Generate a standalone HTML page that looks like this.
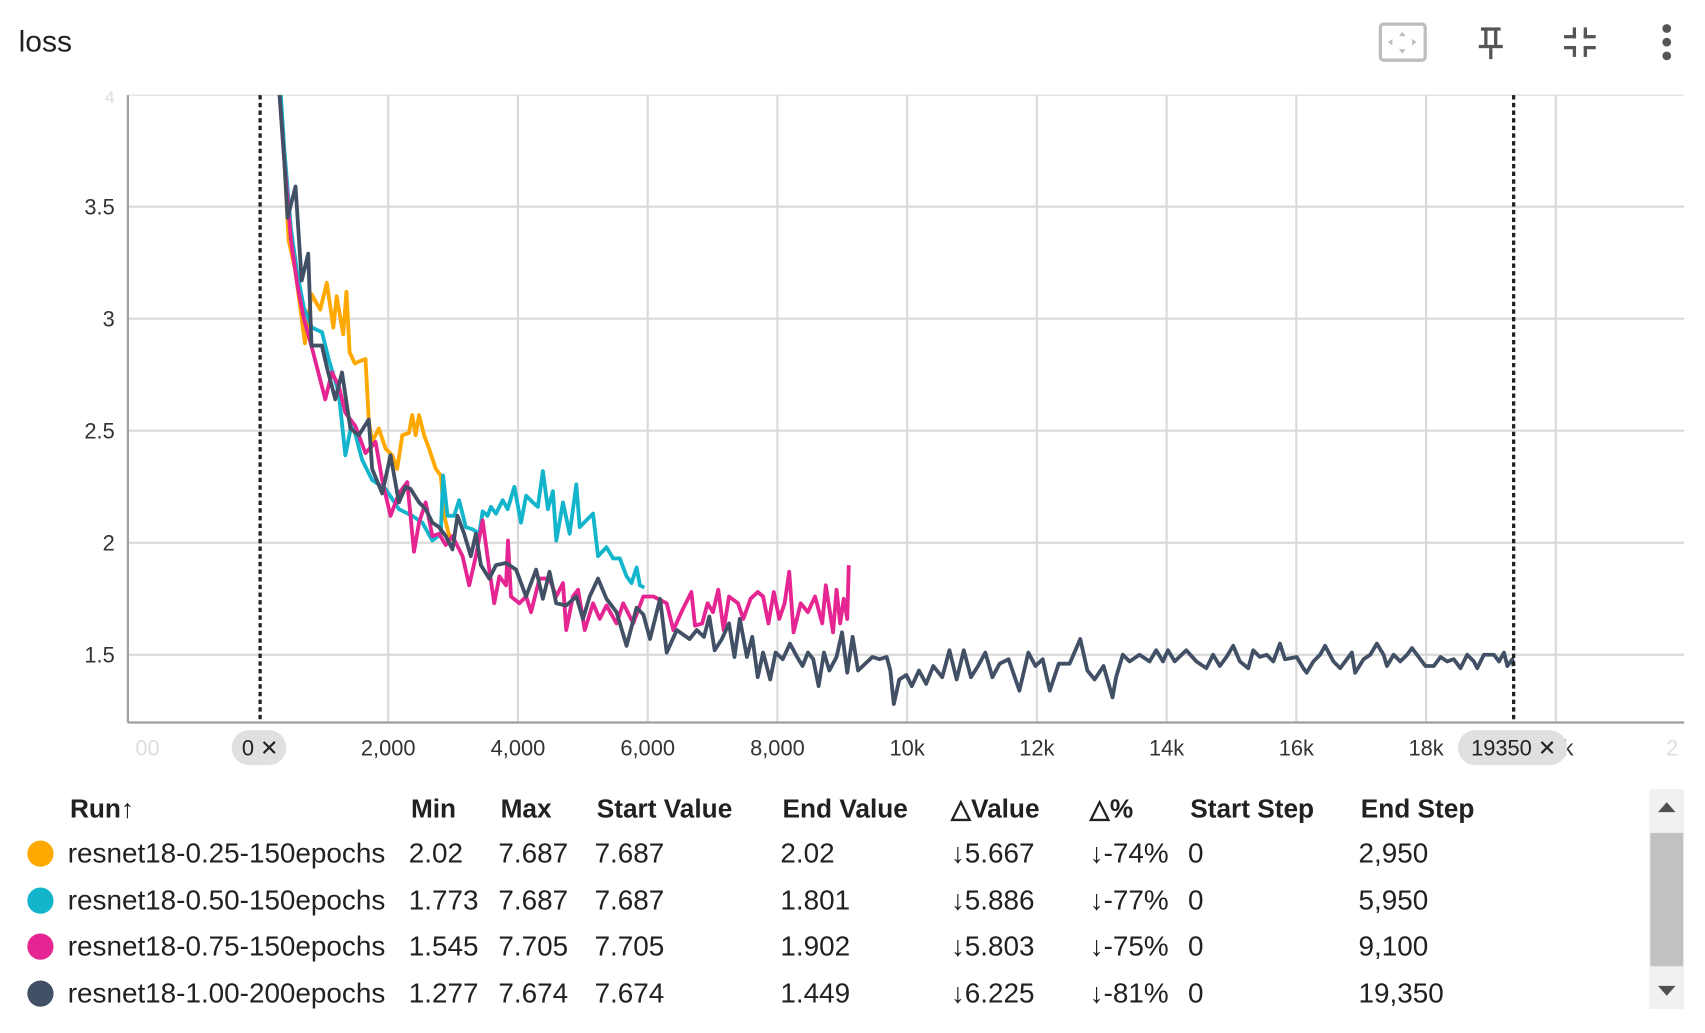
<!DOCTYPE html>
<html><head><meta charset="utf-8"><style>
html,body{margin:0;padding:0;background:#fff;overflow:hidden}
svg{display:block}
text{font-family:"Liberation Sans",sans-serif}
</style></head><body>
<svg id="root" width="1705" height="1033" viewBox="0 0 1560 945" xmlns="http://www.w3.org/2000/svg" fill="#212121">
<text x="17" y="47" font-size="27.5">loss</text>
<g>
<rect x="1263" y="22" width="41" height="33" rx="3" fill="#fff" stroke="#bdbdbd" stroke-width="3"/>
<path d="M1283 29 l-3 4 h6z M1283 49 l-3 -4 h6z M1270 38.5 l4 -3 v6z M1296 38.5 l-4 -3 v6z" fill="#bdbdbd"/>
</g>
<g fill="#555">
<rect x="1355" y="25" width="18" height="3"/><rect x="1358" y="27" width="3" height="15"/><rect x="1367" y="27" width="3" height="15"/><rect x="1353" y="41" width="22" height="3"/><rect x="1362.5" y="43" width="3" height="11"/>
</g>
<g fill="#555">
<rect x="1439" y="25" width="3" height="10"/><rect x="1431" y="32" width="11" height="3"/>
<rect x="1449" y="25" width="3" height="10"/><rect x="1449" y="32" width="11" height="3"/>
<rect x="1431" y="42" width="11" height="3"/><rect x="1439" y="42" width="3" height="10"/>
<rect x="1449" y="42" width="11" height="3"/><rect x="1449" y="42" width="3" height="10"/>
</g>
<g fill="#555">
<circle cx="1525" cy="26" r="4"/><circle cx="1525" cy="38.5" r="4"/><circle cx="1525" cy="51" r="4"/>
</g>
<defs><clipPath id="plotclip"><rect x="117" y="87" width="1424" height="574"/></clipPath></defs>
<g id="grid"></g>
<g id="series" clip-path="url(#plotclip)"></g>
<g id="axes"></g>
<g font-size="25.5">
<g font-weight="bold" font-size="24">
<text x="64" y="748">Run↑</text>
<text x="376" y="748">Min</text>
<text x="458" y="748">Max</text>
<text x="546" y="748">Start Value</text>
<text x="716" y="748">End Value</text>
<text x="870" y="748">△Value</text>
<text x="997" y="748">△%</text>
<text x="1089" y="748">Start Step</text>
<text x="1245" y="748">End Step</text>
</g>
<g><circle cx="37" cy="781" r="12" fill="#ffa800"/>
<text x="62" y="789">resnet18-0.25-150epochs</text><text x="374" y="789">2.02</text><text x="456" y="789">7.687</text><text x="544" y="789">7.687</text><text x="714" y="789">2.02</text><text x="870" y="789">↓5.667</text><text x="997" y="789">↓-74%</text><text x="1087" y="789">0</text><text x="1243" y="789">2,950</text></g>
<g><circle cx="37" cy="824" r="12" fill="#12b5cb"/>
<text x="62" y="832">resnet18-0.50-150epochs</text><text x="374" y="832">1.773</text><text x="456" y="832">7.687</text><text x="544" y="832">7.687</text><text x="714" y="832">1.801</text><text x="870" y="832">↓5.886</text><text x="997" y="832">↓-77%</text><text x="1087" y="832">0</text><text x="1243" y="832">5,950</text></g>
<g><circle cx="37" cy="866" r="12" fill="#e52592"/>
<text x="62" y="874">resnet18-0.75-150epochs</text><text x="374" y="874">1.545</text><text x="456" y="874">7.705</text><text x="544" y="874">7.705</text><text x="714" y="874">1.902</text><text x="870" y="874">↓5.803</text><text x="997" y="874">↓-75%</text><text x="1087" y="874">0</text><text x="1243" y="874">9,100</text></g>
<g><circle cx="37" cy="909" r="12" fill="#425066"/>
<text x="62" y="917">resnet18-1.00-200epochs</text><text x="374" y="917">1.277</text><text x="456" y="917">7.674</text><text x="544" y="917">7.674</text><text x="714" y="917">1.449</text><text x="870" y="917">↓6.225</text><text x="997" y="917">↓-81%</text><text x="1087" y="917">0</text><text x="1243" y="917">19,350</text></g>
</g>
<g>
<rect x="1509" y="722" width="32" height="201" fill="#f1f1f1"/>
<rect x="1510" y="762" width="30" height="122" fill="#c1c1c1"/>
<path d="M1525 734 l-8 9 h16z" fill="#505050"/><path d="M1525 911 l-8 -9 h16z" fill="#505050"/>
</g>
</svg>
<script>
const yTicks=[1.5,2,2.5,3,3.5];
const yTickLabels=["1.5","2","2.5","3","3.5"];
const xTicks=[-2000,2000,4000,6000,8000,10000,12000,14000,16000,18000,20000,22000];
const xTickLabels=["-2,000","2,000","4,000","6,000","8,000","10k","12k","14k","16k","18k","20k","22k"];
const rangeMarkers=[0,19350];
const stepsOrange=[0,100,200,300,400,465,565,716,818,952,1053,1154,1204,1305,1356,1406,1486,1560,1650,1701,1752,1855,1959,2062,2139,2217,2320,2371,2423,2475,2552,2630,2733,2810,2862,2950];
const lossOrange=[7.687,6.2,5.0,4.2,3.7,3.35,3.22,2.89,3.11,3.04,3.16,2.96,3.10,2.93,3.12,2.85,2.80,2.81,2.82,2.54,2.45,2.51,2.42,2.39,2.33,2.48,2.49,2.57,2.48,2.57,2.48,2.42,2.33,2.30,2.12,2.02];
const stepsCyan=[0,100,200,300,400,500,600,700,824,979,1082,1236,1340,1443,1598,1752,1959,2165,2371,2526,2681,2810,2846,2913,3016,3094,3197,3300,3403,3455,3532,3584,3661,3764,3842,3945,4048,4126,4229,4307,4384,4461,4539,4591,4694,4797,4900,4952,5055,5158,5235,5364,5468,5571,5674,5751,5829,5880,5950];
const lossCyan=[7.687,6.2,5.0,4.2,3.75,3.4,3.2,3.05,2.96,2.94,2.82,2.67,2.39,2.54,2.37,2.28,2.24,2.15,2.12,2.09,2.01,2.04,2.30,2.12,2.12,2.19,2.07,2.06,2.04,2.14,2.12,2.16,2.13,2.19,2.15,2.25,2.09,2.21,2.18,2.16,2.32,2.15,2.23,2.01,2.18,2.04,2.26,2.07,2.10,2.13,1.94,1.98,1.93,1.93,1.85,1.82,1.89,1.81,1.80];
const stepsPink=[0,100,200,300,400,500,600,700,824,1030,1133,1236,1340,1494,1649,1804,1907,2036,2165,2294,2397,2475,2578,2681,2784,2887,2990,3145,3248,3351,3455,3558,3635,3713,3816,3847,3893,4022,4126,4203,4332,4487,4590,4694,4745,4848,4926,5029,5158,5261,5364,5519,5622,5777,5932,6087,6293,6396,6536,6674,6729,6840,6923,7006,7088,7171,7254,7392,7475,7586,7696,7779,7862,7945,8028,8111,8182,8249,8359,8470,8580,8691,8746,8857,8912,8967,9022,9077,9100];
const lossPink=[7.705,6.1,4.9,4.1,3.7,3.35,3.15,3.0,2.87,2.64,2.76,2.70,2.58,2.52,2.40,2.45,2.28,2.12,2.22,2.27,1.96,2.09,2.18,2.03,2.04,1.99,2.03,1.94,1.81,1.94,2.10,1.88,1.73,1.85,1.81,2.01,1.76,1.73,1.76,1.69,1.84,1.84,1.76,1.82,1.61,1.76,1.79,1.61,1.73,1.66,1.72,1.64,1.73,1.64,1.76,1.76,1.73,1.61,1.70,1.78,1.63,1.64,1.73,1.69,1.79,1.61,1.76,1.73,1.66,1.75,1.78,1.76,1.64,1.78,1.66,1.73,1.87,1.60,1.73,1.69,1.76,1.64,1.81,1.60,1.79,1.64,1.75,1.66,1.90];
const stepsDark=[0,100,200,300,400,448,572,666,766,818,978,1056,1185,1288,1417,1546,1700,1752,1907,2036,2165,2268,2346,2475,2578,2681,2784,2887,2990,3068,3171,3274,3351,3429,3558,3661,3816,3971,4125,4280,4384,4487,4590,4745,4900,5003,5106,5235,5364,5519,5674,5828,5932,6035,6190,6293,6448,6646,6757,6867,6950,7033,7144,7254,7337,7420,7530,7613,7696,7779,7889,7972,8083,8193,8304,8387,8470,8553,8635,8718,8801,8912,8995,9077,9160,9243,9353,9464,9574,9685,9740,9795,9878,9989,10072,10182,10293,10403,10541,10652,10763,10873,10984,11094,11205,11315,11426,11564,11730,11868,11978,12089,12199,12337,12503,12669,12779,12890,13028,13166,13222,13325,13428,13582,13737,13840,13943,14021,14124,14304,14459,14613,14716,14820,14923,15026,15129,15258,15335,15438,15541,15644,15748,15825,16005,16108,16160,16263,16366,16443,16572,16675,16778,16856,16907,17036,17139,17242,17345,17397,17500,17603,17706,17783,17886,17990,18119,18222,18325,18428,18531,18634,18737,18789,18892,19047,19124,19201,19253,19330,19350];
const lossDark=[7.674,6.0,4.8,4.1,3.7,3.45,3.59,3.17,3.29,2.88,2.88,2.78,2.64,2.76,2.51,2.48,2.55,2.33,2.22,2.39,2.18,2.25,2.24,2.18,2.15,2.09,2.07,2.03,1.97,2.12,2.04,1.94,2.04,1.90,1.84,1.90,1.91,1.88,1.76,1.88,1.75,1.87,1.73,1.72,1.76,1.66,1.76,1.84,1.75,1.69,1.54,1.71,1.68,1.57,1.75,1.51,1.61,1.57,1.61,1.58,1.67,1.52,1.57,1.64,1.49,1.66,1.49,1.58,1.40,1.51,1.39,1.51,1.48,1.55,1.49,1.45,1.51,1.48,1.36,1.51,1.43,1.49,1.60,1.42,1.58,1.43,1.46,1.49,1.48,1.49,1.43,1.28,1.39,1.41,1.36,1.43,1.37,1.45,1.40,1.52,1.39,1.52,1.40,1.45,1.51,1.40,1.46,1.48,1.34,1.51,1.45,1.48,1.34,1.46,1.46,1.57,1.43,1.39,1.45,1.31,1.40,1.50,1.47,1.50,1.47,1.52,1.47,1.52,1.47,1.52,1.47,1.44,1.50,1.45,1.49,1.54,1.47,1.44,1.52,1.49,1.50,1.47,1.55,1.48,1.49,1.44,1.42,1.47,1.50,1.54,1.47,1.44,1.48,1.51,1.42,1.48,1.50,1.55,1.50,1.45,1.50,1.47,1.50,1.53,1.49,1.45,1.45,1.49,1.47,1.48,1.44,1.50,1.47,1.44,1.50,1.50,1.47,1.51,1.45,1.48,1.449];

const NS="http://www.w3.org/2000/svg";
const PL=117,PR=1541,PT=87,PB=661;
function xScale(s){return 236.5+s*0.05935;}
function yScale(v){return 599-(v-1.5)*205;}
function mk(tag,attrs,parent){const e=document.createElementNS(NS,tag);for(const k in attrs)e.setAttribute(k,attrs[k]);parent.appendChild(e);return e;}
const grid=document.getElementById('grid'),axes=document.getElementById('axes'),series=document.getElementById('series');
mk('line',{x1:PL,x2:PR,y1:PT,y2:PT,stroke:'#e6e6e6','stroke-width':1.5},grid);
yTicks.forEach((v,i)=>{
  const y=yScale(v);
  const l=mk('line',{x1:PL,x2:PR,y1:y,y2:y,stroke:'#dadada','stroke-width':2},grid);
  
  
  const t=mk('text',{x:105,y:y+7,'text-anchor':'end','font-size':20,fill:'#333'},axes);
  t.textContent=yTickLabels[i];
  
  
});
const t4=mk('text',{x:105,y:94,'text-anchor':'end','font-size':16,fill:'#ddd'},axes);
t4.textContent='4';


xTicks.forEach((s,i)=>{
  const x=xScale(s);
  if(x>PL+2&&x<PR-2){
    const l=mk('line',{x1:x,x2:x,y1:PT,y2:PB,stroke:'#dadada','stroke-width':2},grid);
    
    
  }
  let tx=Math.max(Math.min(x,1530),135);
  const faded=(x<PL+30||x>PR-30);
  const t=mk('text',{x:tx,y:691,'text-anchor':'middle','font-size':20,fill:faded?'#dedede':'#333'},axes);
  t.textContent=faded?(x<PL+30?'00':'2'):xTickLabels[i];
  
  
});
mk('line',{x1:PL,x2:PL,y1:PT,y2:PB,stroke:'#9e9e9e','stroke-width':2},axes);
mk('line',{x1:PL,x2:PR,y1:PB,y2:PB,stroke:'#9e9e9e','stroke-width':2},axes);
const runs=[[stepsOrange,lossOrange,'#ffa800','series-resnet18-025'],[stepsCyan,lossCyan,'#12b5cb','series-resnet18-050'],[stepsPink,lossPink,'#e52592','series-resnet18-075'],[stepsDark,lossDark,'#425066','series-resnet18-100']];
runs.forEach(r=>{
  const d=r[0].map((s,i)=>(i?'L':'M')+xScale(s).toFixed(1)+' '+yScale(r[1][i]).toFixed(1)).join(' ');
  const p=mk('path',{d:d,fill:'none',stroke:r[2],'stroke-width':3.5,'stroke-linejoin':'round'},series);
  
  
});
rangeMarkers.forEach((s,i)=>{
  const x=xScale(s)+(i===0?1.5:0);
  const l=mk('line',{x1:x,x2:x,y1:PT,y2:PB,stroke:'#222','stroke-width':3,'stroke-dasharray':'4 3'},axes);
  
  
  const w=i===0?50:100;
  const g=mk('g',{},axes);
  
  
  mk('rect',{x:x-w/2-1,y:668,width:w,height:32,rx:16,fill:'#e0e0e0'},g);
  const t=mk('text',{x:x,y:691,'text-anchor':'middle','font-size':20,fill:'#222'},g);
  t.textContent=(i===0?'0':'19350')+' ✕';
});
</script>
</body></html>
